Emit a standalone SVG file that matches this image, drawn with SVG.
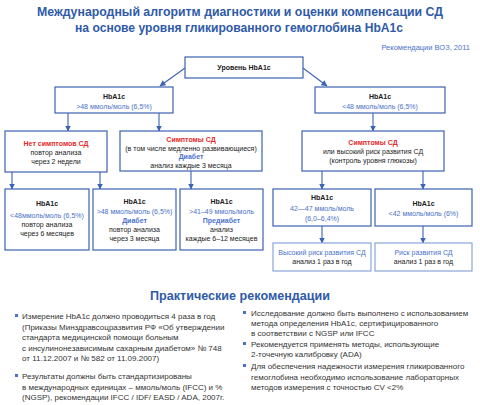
<svg xmlns="http://www.w3.org/2000/svg" width="480" height="405" viewBox="0 0 480 405">
<defs>
<marker id="ah" markerUnits="userSpaceOnUse" markerWidth="6" markerHeight="6" refX="5.5" refY="3" orient="auto">
<path d="M0,0 L6,3 L0,6 z" fill="#3b62b3"/>
</marker>
<style>
text{font-family:"Liberation Sans",Arial,sans-serif}
.title{font-size:13px;font-weight:bold;fill:#2f5aa8;text-anchor:middle}
.box{fill:#fff;stroke:#3b62b3;stroke-width:1.2}
.lbox{fill:#fff;stroke:#8aa5d8;stroke-width:1.2}
.t{font-size:7px;fill:#222;text-anchor:middle}
.b{font-weight:bold}
.blue{fill:#4a72c8}
.red{fill:#e52a2a;font-weight:bold}
.conn line{stroke:#3b62b3;stroke-width:1.1;marker-end:url(#ah)}
.body{font-size:8px;fill:#333}
.bul{fill:#4a72c8}
</style>
</defs>
<rect width="480" height="405" fill="#fff"/>
<text class="title" x="240" y="16" textLength="406" lengthAdjust="spacingAndGlyphs">Международный алгоритм диагностики и оценки компенсации СД</text>
<text class="title" x="239" y="32" textLength="328" lengthAdjust="spacingAndGlyphs">на основе уровня гликированного гемоглобина HbA1c</text>
<text x="470" y="50" font-size="7.5" fill="#4a72c8" text-anchor="end">Рекомендации ВОЗ, 2011</text>

<g class="conn">
<line x1="185" y1="68" x2="160" y2="86"/>
<line x1="303" y1="68" x2="327" y2="86"/>
<line x1="68" y1="113" x2="68" y2="131"/>
<line x1="159" y1="113" x2="159" y2="131"/>
<line x1="373" y1="113" x2="373" y2="131"/>
<line x1="12" y1="172" x2="12" y2="189"/>
<line x1="100" y1="172" x2="100" y2="189"/>
<line x1="191" y1="171" x2="191" y2="189"/>
<line x1="322" y1="171" x2="322" y2="189"/>
<line x1="423" y1="171" x2="423" y2="189"/>
<line x1="322" y1="226" x2="322" y2="243"/>
<line x1="423" y1="226" x2="423" y2="243"/>
</g>

<g id="n-level">
<rect class="box" x="185" y="57" width="118" height="21"/>
<text class="t b" x="244" y="70">Уровень HbA1c</text>
</g>
<g id="n-high">
<rect class="box" x="55" y="87" width="118" height="26"/>
<text class="t b" x="114" y="99">HbA1c</text>
<text class="t blue" x="114" y="108.5">&gt;48 ммоль/моль (6,5%)</text>
</g>
<g id="n-low">
<rect class="box" x="315" y="87" width="130" height="26"/>
<text class="t b" x="380" y="99">HbA1c</text>
<text class="t blue" x="380" y="108.5">&lt;48 ммоль/моль (6,5%)</text>
</g>
<g id="n-nosym">
<rect class="box" x="5" y="131" width="102" height="41"/>
<text class="t red" x="56" y="145.5">Нет симптомов СД</text>
<text class="t" x="56" y="154.5">повтор анализа</text>
<text class="t" x="56" y="163.5">через 2 недели</text>
</g>
<g id="n-sym">
<rect class="box" x="120" y="131" width="142" height="40"/>
<text class="t red" x="191" y="141.5">Симптомы СД</text>
<text class="t" x="191" y="150.5">(в том числе медленно развивающиеся)</text>
<text class="t blue b" x="191" y="159">Диабет</text>
<text class="t" x="191" y="167.5">анализ каждые 3 месяца</text>
</g>
<g id="n-symrisk">
<rect class="box" x="302" y="131" width="142" height="40"/>
<text class="t red" x="373" y="145">Симптомы СД</text>
<text class="t" x="373" y="154">или высокий риск развития СД</text>
<text class="t" x="373" y="163">(контроль уровня глюкозы)</text>
</g>
<g id="n-l1">
<rect class="box" x="5" y="189" width="84" height="61"/>
<text class="t b" x="47" y="205.5">HbA1c</text>
<text class="t blue" x="47" y="217.5">&lt;48ммоль/моль (6,5%)</text>
<text class="t" x="47" y="226.5">повтор анализа</text>
<text class="t" x="47" y="235.5">через 6 месяцев</text>
</g>
<g id="n-l2">
<rect class="box" x="93" y="189" width="83" height="61"/>
<text class="t b" x="134.5" y="203.5">HbA1c</text>
<text class="t blue" x="134.5" y="213.5">&gt;48 ммоль/моль (6,5%)</text>
<text class="t blue b" x="134.5" y="222.5">Диабет</text>
<text class="t" x="134.5" y="231.5">повтор анализа</text>
<text class="t" x="134.5" y="241">через 3 месяца</text>
</g>
<g id="n-l3">
<rect class="box" x="180" y="189" width="83" height="61"/>
<text class="t b" x="221.5" y="203.5">HbA1c</text>
<text class="t blue" x="221.5" y="213.5">&gt;41–49 ммоль/моль</text>
<text class="t blue b" x="221.5" y="222.5">Предиабет</text>
<text class="t" x="221.5" y="231.5">анализ</text>
<text class="t" x="221.5" y="241">каждые 6–12 месяцев</text>
</g>
<g id="n-r1">
<rect class="box" x="273" y="189" width="98" height="37"/>
<text class="t b" x="322" y="199.5">HbA1c</text>
<text class="t blue" x="322" y="210.5">42—47 ммоль/моль</text>
<text class="t blue" x="322" y="220.5">(6,0–6,4%)</text>
</g>
<g id="n-r2">
<rect class="box" x="375" y="189" width="97" height="37"/>
<text class="t b" x="423.5" y="205.5">HbA1c</text>
<text class="t blue" x="423.5" y="215.5">&lt;42 ммоль/моль (6%)</text>
</g>
<g id="n-r3">
<rect class="lbox" x="273" y="243" width="98" height="28"/>
<text class="t blue" x="322" y="254.5">Высокий риск развития СД</text>
<text class="t" x="322" y="264">анализ 1 раз в год</text>
</g>
<g id="n-r4">
<rect class="lbox" x="375" y="243" width="97" height="28"/>
<text class="t blue" x="423.5" y="254.5">Риск развития СД</text>
<text class="t" x="423.5" y="264">анализ 1 раз в год</text>
</g>

<text class="title" x="240" y="300" textLength="180" lengthAdjust="spacingAndGlyphs">Практические рекомендации</text>

<g id="bul-left">
<rect class="bul" x="15" y="314" width="3" height="3"/>
<text class="body" x="22" y="319">Измерение HbA1c должно проводиться 4 раза в год</text>
<text class="body" x="22" y="329.5">(Приказы Минздравсоцразвития РФ «Об утверждении</text>
<text class="body" x="22" y="340">стандарта медицинской помощи больным</text>
<text class="body" x="22" y="350.5">с инсулинонезависимым сахарным диабетом» № 748</text>
<text class="body" x="22" y="361">от 11.12.2007 и № 582 от 11.09.2007)</text>
<rect class="bul" x="15" y="374" width="3" height="3"/>
<text class="body" x="22" y="379">Результаты должны быть стандартизированы</text>
<text class="body" x="22" y="389.5">в международных единицах – ммоль/моль (IFCC) и %</text>
<text class="body" x="22" y="400">(NGSP), рекомендации IFCC / IDF/ EASD / ADA, 2007г.</text>
</g>
<g id="bul-right">
<rect class="bul" x="243" y="311" width="3" height="3"/>
<text class="body" x="251" y="316">Исследование должно быть выполнено с использованием</text>
<text class="body" x="251" y="326">метода определения HbA1c, сертифицированного</text>
<text class="body" x="251" y="336">в соответствии с NGSP или IFCC</text>
<rect class="bul" x="243" y="342" width="3" height="3"/>
<text class="body" x="251" y="347">Рекомендуется применять методы, использующие</text>
<text class="body" x="251" y="357">2-точечную калибровку (ADA)</text>
<rect class="bul" x="243" y="364" width="3" height="3"/>
<text class="body" x="251" y="369">Для обеспечения надежности измерения гликированного</text>
<text class="body" x="251" y="380">гемоглобина необходимо использование лабораторных</text>
<text class="body" x="251" y="390">методов измерения с точностью CV &lt;2%</text>
</g>
</svg>
